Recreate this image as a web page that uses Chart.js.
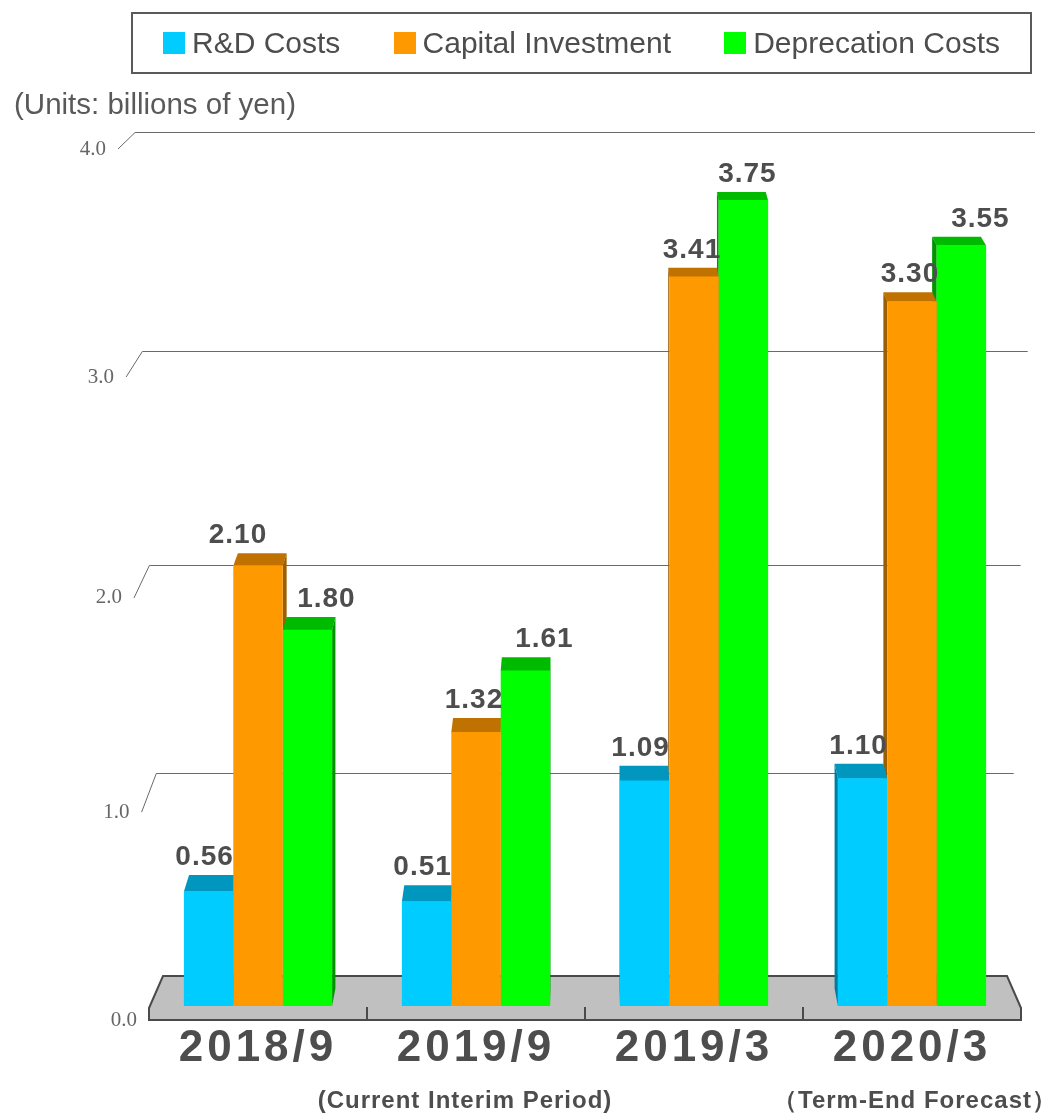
<!DOCTYPE html>
<html><head><meta charset="utf-8">
<script src="https://cdn.jsdelivr.net/npm/chart.js@4.4.1/dist/chart.umd.min.js"></script>
<style>
html,body{margin:0;padding:0;background:#fff}
#wrap{position:relative;width:1052px;height:1115px}
#legend{position:absolute;left:131px;top:12px;width:901px;height:62px;box-sizing:border-box;border:2px solid #5a5a5a;display:flex;align-items:center;justify-content:space-between;padding:0 30px;font-family:'Liberation Sans',Arial,sans-serif;font-size:30px;color:#4d4d4d}
.li{display:flex;align-items:center;white-space:nowrap}
.sw{width:22px;height:22px;margin-right:7px;display:inline-block}
</style></head><body>
<div id="wrap"><canvas id="chart" width="1052" height="1115"></canvas><div id="legend"></div></div>
<script>
// ---- data ----
const categories = ['2018/9', '2019/9', '2019/3', '2020/3'];
const subLabels = ['', '(Current Interim Period)', '', '（Term-End Forecast）'];
const seriesNames = ['R&D Costs', 'Capital Investment', 'Deprecation Costs'];
const rdCosts = [0.56, 0.51, 1.09, 1.10];
const capitalInvestment = [2.10, 1.32, 3.41, 3.30];
const depreciationCosts = [1.80, 1.61, 3.75, 3.55];
const yTicks = [0, 1, 2, 3, 4];

// ---- styles ----
const STYLE = {
  front: ['#00CCFF', '#FF9900', '#00FF00'],
  top: ['#0096BE', '#C07200', '#00BA00'],
  side: ['#007C9E', '#9C5E00', '#009400'],
  gridColor: '#6a6a6a', floorColor: '#c0c0c0', floorEdge: '#4a4a4a',
  floorThick: 12, backInset: 14, backSpread: 28, frontSlant: 31, depthShift: 0.013,
  labelOffsetX: [-4, -2, 19], labelNudge: {'1-0': -18, '2-2': -15}, labelGap: 10,
  textColor: '#4d4d4d'
};

// ---- custom scales ----
class PerspectiveScale extends Chart.LinearScale {
  _f(v) { const c = this.options.perspective || 0; return v / (1 - c * v); }
  _ends() { const o = this.options; return [this.bottom - (o.baseShift || 0), this.top + (o.topShift || 0)]; }
  getPixelForValue(value) {
    const [b, t] = this._ends();
    const f0 = this._f(this.min), f1 = this._f(this.max);
    return b - (b - t) * (this._f(value) - f0) / (f1 - f0);
  }
  getValueForPixel(pixel) {
    const [b, t] = this._ends();
    const f0 = this._f(this.min), f1 = this._f(this.max);
    const f = f0 + (b - pixel) / (b - t) * (f1 - f0);
    const c = this.options.perspective || 0;
    return f / (1 + c * f);
  }
  _computeLabelItems(chartArea) {
    const items = super._computeLabelItems(chartArea);
    const slant = this.options.labelSlant || 0;
    if (slant) {
      const H = this.bottom - this.top;
      items.forEach(it => {
        const tr = it.options.translation;
        tr[0] -= slant * (this.bottom - tr[1]) / H;
      });
    }
    return items;
  }
}
PerspectiveScale.id = 'perspective';

class SpacedCategoryScale extends Chart.CategoryScale {
  drawLabels(chartArea) {
    const ctx = this.ctx;
    ctx.save();
    ctx.letterSpacing = (this.options.letterSpacing || 0) + 'px';
    super.drawLabels(chartArea);
    ctx.restore();
  }
}
SpacedCategoryScale.id = 'spacedCategory';
Chart.register(PerspectiveScale, SpacedCategoryScale);

// ---- 3D plugin ----
const threeD = {
  id: 'threeD',
  beforeDatasetsDraw(chart) {
    const {ctx, chartArea: ca, scales} = chart;
    const yF = scales.y, yBk = scales.yBack, yBB = scales.yBarBack, xs = scales.x;
    const b0 = yBk.getPixelForValue(yBk.min), b1 = yBk.getPixelForValue(yBk.max);
    const spread = y => (b0 - y) / (b0 - b1);
    const backL = y => ca.left + STYLE.backInset - STYLE.backSpread * spread(y);
    const backR = y => ca.right - STYLE.backInset + STYLE.backSpread * spread(y);
    const frontX = y => ca.left - STYLE.frontSlant * (ca.bottom - y) / (ca.bottom - ca.top);
    ctx.save();
    ctx.strokeStyle = STYLE.gridColor; ctx.lineWidth = 1;
    yF.ticks.forEach(t => {
      if (t.value === yF.min) return;
      const yf = yF.getPixelForValue(t.value), yb = Math.round(yBk.getPixelForValue(t.value)) + 0.5;
      ctx.beginPath();
      ctx.moveTo(frontX(yf), yf);
      ctx.lineTo(backL(yb), yb);
      ctx.lineTo(backR(yb), yb);
      ctx.stroke();
    });
    // floor
    const fb = ca.bottom, ft = ca.bottom - STYLE.floorThick;
    ctx.beginPath();
    ctx.moveTo(ca.left, fb); ctx.lineTo(ca.left, ft); ctx.lineTo(backL(b0), b0);
    ctx.lineTo(backR(b0), b0); ctx.lineTo(ca.right, ft); ctx.lineTo(ca.right, fb); ctx.closePath();
    ctx.fillStyle = STYLE.floorColor; ctx.fill();
    ctx.strokeStyle = STYLE.floorEdge; ctx.lineWidth = 2; ctx.stroke();
    for (let i = 1; i < categories.length; i++) {
      const xp = Math.round((xs.getPixelForValue(i - 1) + xs.getPixelForValue(i)) / 2);
      ctx.beginPath(); ctx.moveTo(xp, fb); ctx.lineTo(xp, ft - 1); ctx.stroke();
    }
    // bar sides and tops
    const vx = (ca.left + ca.right) / 2;
    const items = [];
    chart.getSortedVisibleDatasetMetas().forEach(meta => {
      const ds = chart.data.datasets[meta.index];
      meta.data.forEach((bar, i) => {
        const p = bar.getProps(['x', 'y', 'base', 'width'], true);
        const v = ds.data[i];
        const x0 = p.x - p.width / 2, x1 = p.x + p.width / 2;
        items.push({
          x0, x1, cx: p.x, yt: p.y, yb: p.base,
          ytb: yBB.getPixelForValue(v), ybb: yBB.getPixelForValue(0),
          d0: STYLE.depthShift * (vx - x0), d1: STYLE.depthShift * (vx - x1),
          k: meta.index
        });
      });
    });
    items.forEach(it => {
      ctx.beginPath();
      if (it.cx < vx) {
        ctx.moveTo(it.x1, it.yt); ctx.lineTo(it.x1 + it.d1, it.ytb); ctx.lineTo(it.x1 + it.d1, it.ybb); ctx.lineTo(it.x1, it.yb);
      } else {
        ctx.moveTo(it.x0, it.yt); ctx.lineTo(it.x0 + it.d0, it.ytb); ctx.lineTo(it.x0 + it.d0, it.ybb); ctx.lineTo(it.x0, it.yb);
      }
      ctx.closePath(); ctx.fillStyle = STYLE.side[it.k]; ctx.fill();
    });
    items.forEach(it => {
      ctx.beginPath();
      ctx.moveTo(it.x0, it.yt + 0.5); ctx.lineTo(it.x1, it.yt + 0.5);
      ctx.lineTo(it.x1 + it.d1, it.ytb); ctx.lineTo(it.x0 + it.d0, it.ytb);
      ctx.closePath(); ctx.fillStyle = STYLE.top[it.k]; ctx.fill();
    });
    ctx.restore();
  },
  afterDatasetsDraw(chart) {
    const {ctx, scales} = chart; const yBB = scales.yBarBack;
    ctx.save();
    ctx.font = "bold 28px 'Liberation Sans', Arial, sans-serif";
    ctx.fillStyle = STYLE.textColor; ctx.textAlign = 'center'; ctx.textBaseline = 'alphabetic';
    ctx.letterSpacing = '1px';
    chart.getSortedVisibleDatasetMetas().forEach(meta => {
      const ds = chart.data.datasets[meta.index];
      meta.data.forEach((bar, i) => {
        const v = ds.data[i];
        const x = bar.x + STYLE.labelOffsetX[meta.index] + (STYLE.labelNudge[meta.index + '-' + i] || 0);
        const y = yBB.getPixelForValue(v) - STYLE.labelGap;
        ctx.fillText(v.toFixed(2), x, y);
      });
    });
    ctx.restore();
  },
  afterDraw(chart) {
    const {ctx, chartArea: ca, scales} = chart; const xs = scales.x;
    ctx.save();
    ctx.font = "bold 24px 'Liberation Sans', Arial, sans-serif";
    ctx.fillStyle = STYLE.textColor; ctx.textAlign = 'center'; ctx.textBaseline = 'middle';
    ctx.letterSpacing = '1px';
    subLabels.forEach((s, i) => { if (s) ctx.fillText(s, xs.getPixelForValue(i) - (i === 1 ? 11 : -3), ca.bottom + 81); });
    ctx.restore();
  }
};

const hiddenY = (c, base, top) => ({type: 'perspective', axis: 'y', position: 'left', display: false,
  min: yTicks[0], max: yTicks[yTicks.length - 1], perspective: c, baseShift: base, topShift: top});

const chart = new Chart(document.getElementById('chart'), {
  type: 'bar',
  data: {
    labels: categories,
    datasets: [
      {label: seriesNames[0], data: rdCosts, backgroundColor: STYLE.front[0], yAxisID: 'yBar'},
      {label: seriesNames[1], data: capitalInvestment, backgroundColor: STYLE.front[1], yAxisID: 'yBar'},
      {label: seriesNames[2], data: depreciationCosts, backgroundColor: STYLE.front[2], yAxisID: 'yBar'}
    ]
  },
  options: {
    responsive: false, animation: false,
    categoryPercentage: 0.68, barPercentage: 1.0,
    borderWidth: 0,
    layout: {padding: {left: 14, right: 31, top: 0, bottom: 0}},
    plugins: {
      legend: {display: false},
      tooltip: {enabled: false},
      title: {display: true, text: '(Units: billions of yen)', align: 'start', color: '#595959',
        font: {family: "'Liberation Sans', Arial, sans-serif", size: 29.5, weight: 'normal', lineHeight: 1.2},
        padding: {top: 88, bottom: 25.6}}
    },
    scales: {
      x: {type: 'spacedCategory', offset: true, letterSpacing: 4,
        grid: {display: false, drawTicks: false}, border: {display: false},
        ticks: {color: STYLE.textColor, padding: 7, maxRotation: 0, autoSkip: false,
          font: {family: "'Liberation Sans', Arial, sans-serif", size: 44, weight: 'bold', lineHeight: 1}},
        afterFit: s => { s.height = 95; }},
      y: {type: 'perspective', position: 'left', min: yTicks[0], max: yTicks[yTicks.length - 1],
        perspective: 0.015, baseShift: 0, topShift: 0, labelSlant: STYLE.frontSlant,
        grid: {display: false, drawTicks: false}, border: {display: false},
        ticks: {padding: 12, color: '#666', font: {family: "'Liberation Serif', serif", size: 21},
          callback: v => Number(v).toFixed(1)},
        afterBuildTicks: s => { s.ticks = yTicks.map(v => ({value: v})); },
        afterFit: s => { s.width = 135; }},
      yBar: hiddenY(0.01385, 14, -6),
      yBarBack: hiddenY(0.0142, 31.5, -13.4),
      yBack: hiddenY(0.01248, 44, -17)
    }
  },
  plugins: [threeD]
});

// HTML legend generated from the chart's own legend items
const legendEl = document.getElementById('legend');
Chart.defaults.plugins.legend.labels.generateLabels(chart).forEach(it => {
  const li = document.createElement('span'); li.className = 'li';
  const sw = document.createElement('span'); sw.className = 'sw'; sw.style.background = it.fillStyle;
  li.appendChild(sw); li.appendChild(document.createTextNode(it.text));
  legendEl.appendChild(li);
});
</script>
</body></html>
